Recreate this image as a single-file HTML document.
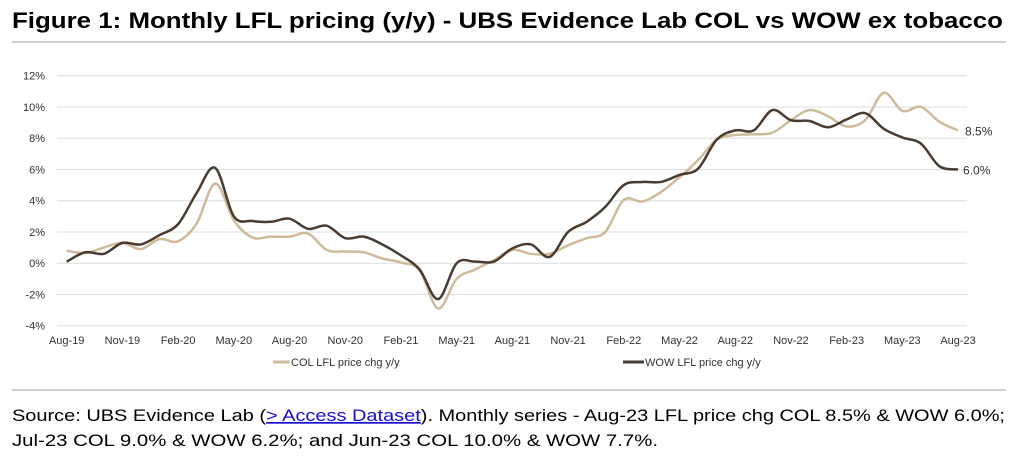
<!DOCTYPE html>
<html><head><meta charset="utf-8"><style>
html,body{margin:0;padding:0;background:#fff;width:1018px;height:462px;overflow:hidden}
svg{display:block;font-family:"Liberation Sans",sans-serif}
</style></head><body>
<svg id="chart" width="1018" height="462" viewBox="0 0 1018 462">
<text x="12" y="28" font-size="22" font-weight="bold" fill="#000" textLength="991" lengthAdjust="spacingAndGlyphs">Figure 1: Monthly LFL pricing (y/y) - UBS Evidence Lab COL vs WOW ex tobacco</text>
<line x1="12" y1="42" x2="1006" y2="42" stroke="#cfcfcf" stroke-width="2"/>
<g id="grid"></g><g id="yticks"></g><g id="xticks"></g><g id="series"></g>
<g>
<line x1="273" y1="362" x2="290" y2="362" stroke="#cdbb9c" stroke-width="3"/>
<text x="291" y="366" font-size="11" fill="#333" font-family="Liberation Sans Narrow, Liberation Sans, sans-serif">COL LFL price chg y/y</text>
<line x1="623" y1="362" x2="644" y2="362" stroke="#4a3b30" stroke-width="3"/>
<text x="645" y="366" font-size="11" fill="#333" font-family="Liberation Sans Narrow, Liberation Sans, sans-serif">WOW LFL price chg y/y</text>
</g>
<line x1="12" y1="390" x2="1006" y2="390" stroke="#cfcfcf" stroke-width="2"/>
<text x="12" y="421" font-size="17" fill="#000" textLength="993" lengthAdjust="spacingAndGlyphs" font-family="Liberation Sans Narrow, Liberation Sans, sans-serif">Source: UBS Evidence Lab (<tspan fill="#1a0dcc" text-decoration="underline">&gt; Access Dataset</tspan>). Monthly series - Aug-23 LFL price chg COL 8.5% &amp; WOW 6.0%;</text>
<text x="12" y="446" font-size="17" fill="#000" textLength="646" lengthAdjust="spacingAndGlyphs" font-family="Liberation Sans Narrow, Liberation Sans, sans-serif">Jul-23 COL 9.0% &amp; WOW 6.2%; and Jun-23 COL 10.0% &amp; WOW 7.7%.</text>
</svg>
<script>
const yTicks=[12,10,8,6,4,2,0,-2,-4];
const xTickLabels=["Aug-19","Nov-19","Feb-20","May-20","Aug-20","Nov-20","Feb-21","May-21","Aug-21","Nov-21","Feb-22","May-22","Aug-22","Nov-22","Feb-23","May-23","Aug-23"];
const colValues=[0.8,0.65,1.0,1.3,0.9,1.55,1.4,2.55,5.1,2.75,1.65,1.7,1.7,1.9,0.85,0.75,0.7,0.3,0.05,-0.45,-2.9,-1.0,-0.4,0.2,0.85,0.6,0.6,1.15,1.6,2.0,4.05,3.95,4.55,5.5,6.6,7.9,8.2,8.25,8.35,9.15,9.8,9.4,8.75,9.15,10.9,9.75,10.0,9.05,8.5];
const wowValues=[0.1,0.7,0.6,1.3,1.2,1.8,2.5,4.5,6.1,3.0,2.7,2.65,2.85,2.2,2.4,1.6,1.7,1.2,0.5,-0.4,-2.3,0.0,0.1,0.1,0.95,1.2,0.4,2.0,2.65,3.6,5.0,5.2,5.2,5.65,6.05,7.9,8.5,8.5,9.8,9.15,9.1,8.7,9.2,9.6,8.6,8.05,7.65,6.2,6.0];
const NS='http://www.w3.org/2000/svg';
const X0=66.7,XSTEP=18.57,Y0=263.2,YPX=15.625;
const xs=i=>X0+XSTEP*i, ys=v=>Y0-v*YPX;
function mk(tag,attrs,parent){const e=document.createElementNS(NS,tag);for(const k in attrs)e.setAttribute(k,attrs[k]);parent.appendChild(e);return e;}
const grid=document.getElementById('grid'),yt=document.getElementById('yticks'),xt=document.getElementById('xticks'),ser=document.getElementById('series');
yTicks.forEach(v=>{
 const l=mk('line',{x1:57,x2:967,y1:ys(v),y2:ys(v),stroke:'#dedede','stroke-width':1},grid);
 
 
 const t=mk('text',{x:45,y:ys(v)+4,'text-anchor':'end','font-size':11,fill:'#333'},yt);
 
 
 t.textContent=v+'%';
});
xTickLabels.forEach((s,k)=>{
 const t=mk('text',{x:xs(k*3),y:344,'text-anchor':'middle','font-size':11,fill:'#333'},xt);
 
 
 t.textContent=s;
});
function path(vals){
 const p=vals.map((v,i)=>[xs(i),ys(v)]);let d='M'+p[0][0]+','+p[0][1];
 for(let i=0;i<p.length-1;i++){const a=p[Math.max(i-1,0)],b=p[i],c=p[i+1],e=p[Math.min(i+2,p.length-1)];
  d+=' C'+(b[0]+(c[0]-a[0])/6)+','+(b[1]+(c[1]-a[1])/6)+' '+(c[0]-(e[0]-b[0])/6)+','+(c[1]-(e[1]-b[1])/6)+' '+c[0]+','+c[1];}
 return d;}
const pc=mk('path',{d:path(colValues),fill:'none',stroke:'#cdbb9c','stroke-width':2.5},ser);


const pw=mk('path',{d:path(wowValues),fill:'none',stroke:'#4a3b30','stroke-width':2.5},ser);


const n=colValues.length-1;
const lc=mk('text',{x:xs(n)+7,y:ys(colValues[n])+5,'font-size':12,fill:'#333'},ser);


lc.textContent=colValues[n].toFixed(1)+'%';
const lw=mk('text',{x:xs(n)+5,y:ys(wowValues[n])+5,'font-size':12,fill:'#333'},ser);


lw.textContent=wowValues[n].toFixed(1)+'%';
</script>
</body></html>
